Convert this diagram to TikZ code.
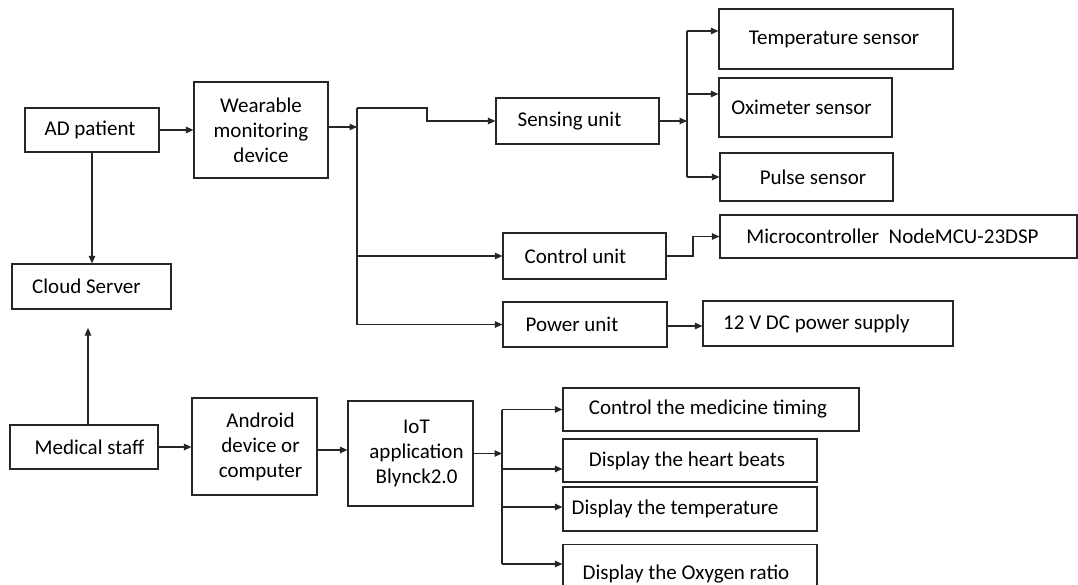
\documentclass[tikz,border=0pt]{standalone}
\usepackage{fontspec}
\setmainfont{Carlito}
\usetikzlibrary{arrows.meta}
\newcommand{\padL}[1]{\hspace*{#1pt}}
\begin{document}
\begin{tikzpicture}[x=1pt,y=-1pt,
  box/.style={draw=black!85, line width=1.2pt, fill=white, inner sep=1pt, font=\fontsize{21}{25}\selectfont, text=black, align=center},
  arr/.style={draw=black!85, line width=1.1pt, -{Triangle[length=7.5pt,width=6.5pt]}},
  ln/.style={draw=black!85, line width=1.1pt}]
\clip (0,0) rectangle (1078,585);
\fill[white] (0,0) rectangle (1078,585);
% top part
\node[box, minimum width=134pt, minimum height=44pt] (adp) at (92,130) {AD patient\padL{4}};
\node[box, minimum width=134pt, minimum height=96pt] (wmd) at (261,130) {Wearable\\monitoring\\device};
\node[box, minimum width=159pt, minimum height=45pt] (cloud) at (91.5,286.5) {Cloud Server\padL{10}};
\node[box, minimum width=163pt, minimum height=46pt] (sens) at (577.5,121) {Sensing unit\padL{16}};
\node[box, minimum width=163pt, minimum height=46pt] (ctrl) at (584.5,256) {Control unit\padL{18}};
\node[box, minimum width=164pt, minimum height=45pt] (pwr) at (585,324.5) {Power unit\padL{26}};
\node[box, minimum width=234pt, minimum height=60pt] (temp) at (836,39) {Temperature sensor\padL{4}};
\node[box, minimum width=173pt, minimum height=59pt] (oxi) at (805.5,107.5) {Oximeter sensor\padL{8}};
\node[box, minimum width=173pt, minimum height=48pt] (pulse) at (806.5,177) {\padL{13}Pulse sensor};
\node[box, minimum width=357pt, minimum height=43pt] (mcu) at (898.5,236.5) {Microcontroller\ \ NodeMCU-23DSP\padL{12}};
\node[box, minimum width=250pt, minimum height=45pt] (dc) at (828,323.5) {12 V DC power supply\padL{23}};
% bottom part
\node[box, minimum width=148pt, minimum height=44pt] (med) at (84,447) {\padL{11}Medical staff};
\node[box, minimum width=125pt, minimum height=97pt] (android) at (254.5,446.5) {\padL{12}Android\\\padL{12}device or\\\padL{12}computer};
\node[box, minimum width=125pt, minimum height=105pt] (iot) at (410.5,453.5) {\padL{12}IoT\\\padL{12}application\\\padL{12}Blynck2.0};
\node[box, minimum width=296pt, minimum height=43pt] (cmt) at (711,409.5) {Control the medicine timing\padL{6}};
\node[box, minimum width=254pt, minimum height=43pt] (dhb) at (690,460.5) {Display the heart beats\padL{6}};
\node[box, minimum width=254pt, minimum height=44pt] (dtemp) at (690,509) {Display the temperature\padL{30}};
\node[box, minimum width=254pt, minimum height=62pt, anchor=north] (doxy) at (690,544) {};
\node[font=\fontsize{21}{25}\selectfont, text=black] (doxyt) at (686,574) {Display the Oxygen ratio};
% coordinates
\coordinate (busA) at (357,127);
\coordinate (busT) at (357,108);
\coordinate (jog) at (427,108);
\coordinate (sbus) at (687,121);
\coordinate (cjog) at (693,256);
\coordinate (ibus) at (502,453);
\coordinate (cup) at (88,328);
% connectors top
\draw[arr] (adp) -- (wmd);
\draw[arr] (adp.south) -- (adp.south |- cloud.north);
\draw[arr] (wmd.east |- busA) -- (busA);
\draw[ln] (busT) -- (busT |- pwr.west);
\draw[arr] (busT) -- (jog) -- (jog |- sens.west) -- (sens.west);
\draw[arr] (busT |- ctrl.west) -- (ctrl.west);
\draw[arr] (busT |- pwr.west) -- (pwr.west);
\draw[arr] (sens.east) -- (sbus);
\draw[ln] (sbus |- 0,31) -- (sbus |- pulse.west);
\draw[arr] (sbus |- 0,31) -- (temp.west |- 0,31);
\draw[arr] (sbus |- 0,94) -- (oxi.west |- 0,94);
\draw[arr] (sbus |- pulse.west) -- (pulse.west);
\draw[arr] (ctrl.east) -- (cjog) -- (cjog |- mcu.west) -- (mcu.west);
\draw[arr] (pwr.east |- 0,326) -- (dc.west |- 0,326);
% connectors bottom
\draw[arr] (med.north -| cup) -- (cup);
\draw[arr] (med) -- (android.west |- med.east);
\draw[arr] (android.east |- 0,450) -- (iot.west |- 0,450);
\draw[arr] (iot.east) -- (ibus |- iot.east);
\draw[ln] (ibus |- cmt.west) -- (ibus |- 0,564);
\draw[arr] (ibus |- cmt.west) -- (cmt.west);
\draw[arr] (ibus |- 0,469) -- (dhb.west |- 0,469);
\draw[arr] (ibus |- 0,507) -- (dtemp.west |- 0,507);
\draw[arr] (ibus |- 0,564) -- (doxy.west |- 0,564);
\end{tikzpicture}
\end{document}
